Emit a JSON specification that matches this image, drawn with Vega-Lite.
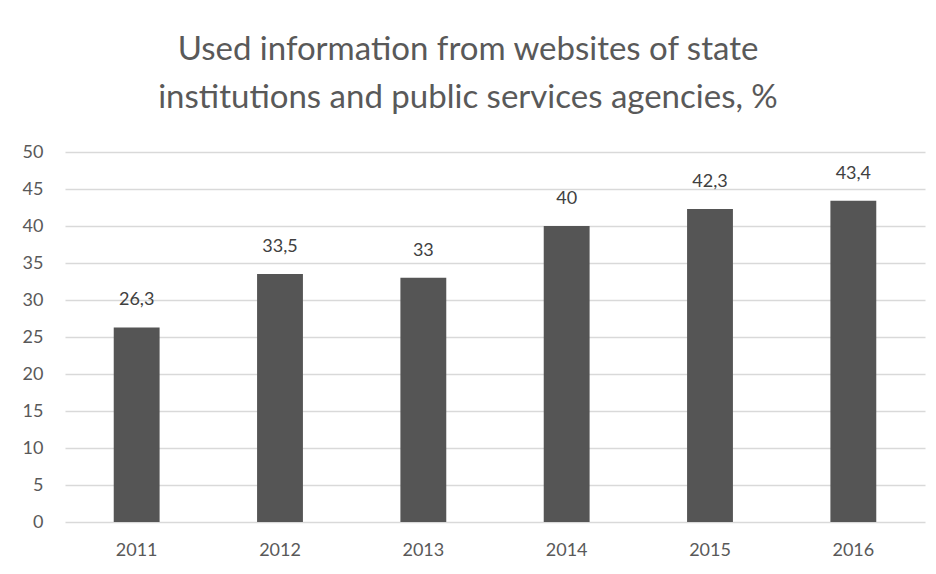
{
  "$schema": "https://vega.github.io/schema/vega-lite/v6.json",
  "autosize": {"type": "none"},
  "width": 860,
  "height": 370,
  "padding": {"left": 65, "top": 152, "right": 11, "bottom": 52},
  "background": "white",
  "config": {
    "locale": {"number": {"decimal": ",", "thousands": ".", "grouping": [3], "currency": ["", " €"]}},
    "view": {"stroke": null},
    "font": "Lato"
  },
  "title": {
    "text": ["Used information from websites of state", "institutions and public services agencies, %"],
    "fontSize": 33,
    "font": "Lato",
    "fontWeight": "normal",
    "color": "#595959",
    "lineHeight": 48,
    "anchor": "middle",
    "dx": -27,
    "offset": 28
  },
  "data": {
    "values": [
      {"year": "2011", "value": 26.3},
      {"year": "2012", "value": 33.5},
      {"year": "2013", "value": 33},
      {"year": "2014", "value": 40},
      {"year": "2015", "value": 42.3},
      {"year": "2016", "value": 43.4}
    ]
  },
  "encoding": {
    "x": {
      "field": "year",
      "type": "nominal",
      "sort": null,
      "scale": {"paddingInner": 0.68, "paddingOuter": 0.34},
      "axis": {
        "title": null,
        "labelAngle": 0,
        "labelFontSize": 18,
        "labelColor": "#595959",
        "labelPadding": 19,
        "ticks": false,
        "domain": false
      }
    },
    "y": {
      "field": "value",
      "type": "quantitative",
      "scale": {"domain": [0, 50], "nice": false},
      "axis": {
        "title": null,
        "values": [0, 5, 10, 15, 20, 25, 30, 35, 40, 45, 50],
        "labelFontSize": 18,
        "labelColor": "#595959",
        "labelPadding": 22,
        "ticks": false,
        "domain": false,
        "gridColor": "#d9d9d9",
        "gridWidth": 1.5
      }
    }
  },
  "layer": [
    {"mark": {"type": "bar", "color": "#555555"}},
    {
      "mark": {"type": "text", "baseline": "bottom", "dy": -18, "fontSize": 18, "color": "#404040"},
      "encoding": {"text": {"field": "value", "type": "quantitative", "format": ".1~f"}}
    }
  ]
}
